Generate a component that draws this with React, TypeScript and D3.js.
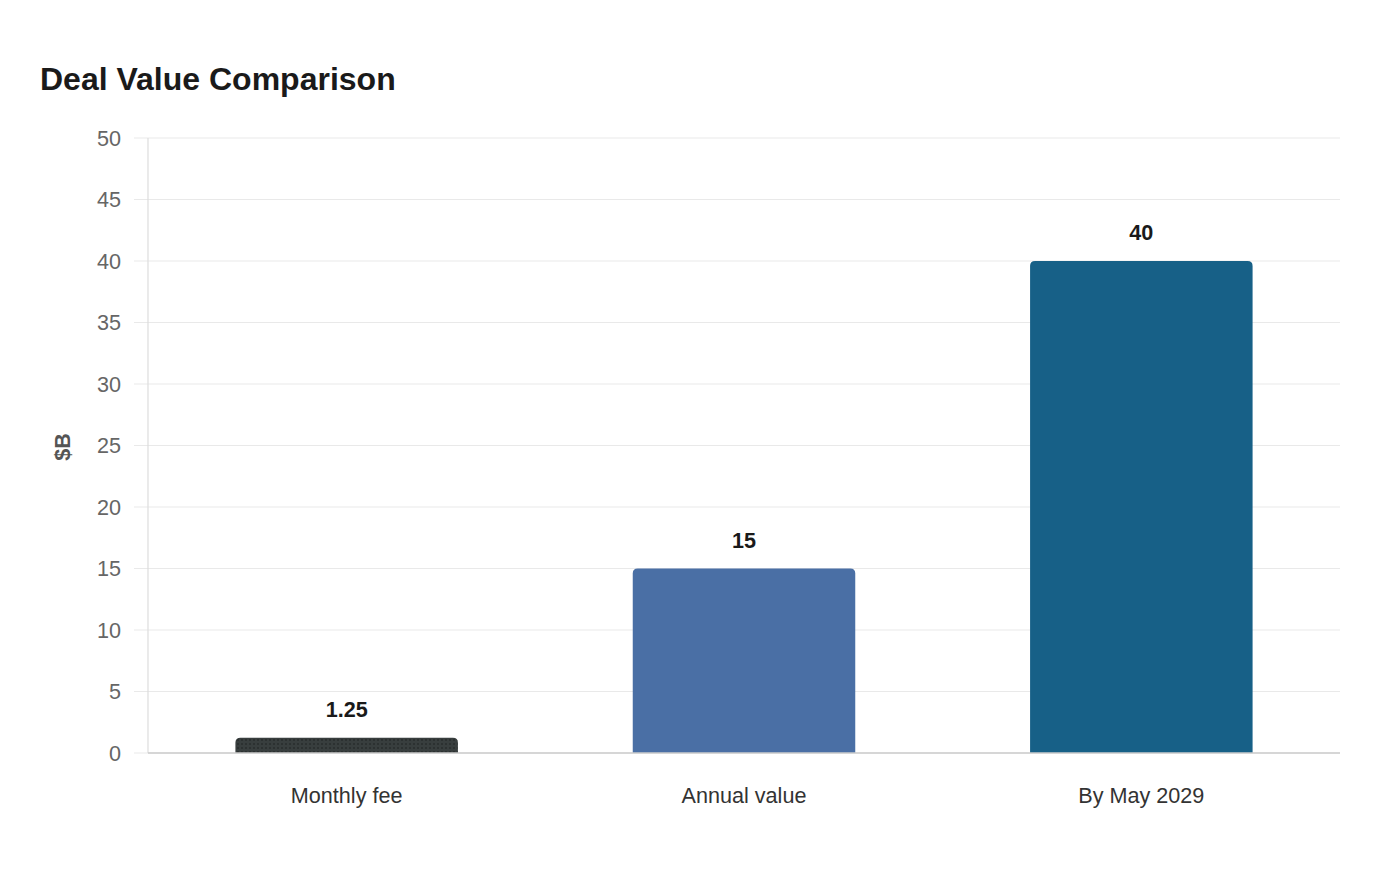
import React, { useEffect, useRef } from 'react';
import * as d3 from 'd3';

const categories = ['Monthly fee', 'Annual value', 'By May 2029'];
const values = [1.25, 15, 40];
const barColors = ['url(#dots)', '#4a6fa5', '#176087'];
const yTicks = [0, 5, 10, 15, 20, 25, 30, 35, 40, 45, 50];

const W = 1400;
const H = 880;
const FONT = '"Liberation Sans", Arial, sans-serif';

export default function App() {
  const svgRef = useRef<SVGSVGElement>(null);

  useEffect(() => {
    document.body.style.margin = '0';
    if (!svgRef.current) return;
    const svg = d3.select(svgRef.current);
    svg.selectAll('*').remove();

    const margin = { top: 138, right: 60, bottom: 127, left: 148 };
    const innerW = W - margin.left - margin.right;
    const innerH = H - margin.top - margin.bottom;

    const defs = svg.append('defs');
    const pat = defs.append('pattern')
      .attr('id', 'dots')
      .attr('patternUnits', 'userSpaceOnUse')
      .attr('width', 4)
      .attr('height', 4);
    pat.append('rect').attr('width', 4).attr('height', 4).attr('fill', '#383e3e');
    pat.append('circle').attr('cx', 2).attr('cy', 2).attr('r', 0.8).attr('fill', '#1c2020');

    svg.append('rect').attr('width', W).attr('height', H).attr('fill', '#ffffff');

    // title
    svg.append('text')
      .attr('x', 40)
      .attr('y', 90)
      .style('font-family', FONT)
      .style('font-size', '32px')
      .style('font-weight', 'bold')
      .style('fill', '#1a1a1a')
      .text('Deal Value Comparison');

    const g = svg.append('g').attr('transform', `translate(${margin.left},${margin.top})`);

    const x = d3.scaleBand<string>()
      .domain(categories)
      .range([0, innerW])
      .paddingInner(0.44)
      .paddingOuter(0.22);

    const y = d3.scaleLinear().domain([0, 50]).range([innerH, 0]);

    // grid (including the short tick stub left of the axis)
    g.selectAll('.grid')
      .data(yTicks)
      .enter()
      .append('line')
      .attr('x1', -14)
      .attr('x2', innerW)
      .attr('y1', d => y(d))
      .attr('y2', d => y(d))
      .style('stroke', '#e9e9e9')
      .style('stroke-width', 1.2);

    // y tick labels
    g.selectAll('.ytick')
      .data(yTicks)
      .enter()
      .append('text')
      .attr('x', -27)
      .attr('y', d => y(d))
      .attr('dy', '0.35em')
      .style('text-anchor', 'end')
      .style('font-family', FONT)
      .style('font-size', '21.6px')
      .style('fill', '#666666')
      .text(d => d);

    // y axis line
    g.append('line')
      .attr('x1', 0).attr('x2', 0)
      .attr('y1', 0).attr('y2', innerH)
      .style('stroke', '#dddddd')
      .style('stroke-width', 1.2);

    // bars
    const r = 5;
    g.selectAll('.bar')
      .data(values)
      .enter()
      .append('path')
      .attr('d', (d, i) => {
        const x0 = x(categories[i])!;
        const w = x.bandwidth();
        const y0 = y(d);
        const y1 = y(0);
        const rr = Math.min(r, y1 - y0);
        return `M${x0},${y1}V${y0 + rr}Q${x0},${y0} ${x0 + rr},${y0}H${x0 + w - rr}Q${x0 + w},${y0} ${x0 + w},${y0 + rr}V${y1}Z`;
      })
      .attr('fill', (d, i) => barColors[i]);

    // x axis baseline
    g.append('line')
      .attr('x1', 0).attr('x2', innerW)
      .attr('y1', innerH).attr('y2', innerH)
      .style('stroke', '#cccccc')
      .style('stroke-width', 1.5);

    // value labels
    g.selectAll('.val')
      .data(values)
      .enter()
      .append('text')
      .attr('x', (d, i) => x(categories[i])! + x.bandwidth() / 2)
      .attr('y', d => y(d) - 21)
      .style('text-anchor', 'middle')
      .style('font-family', FONT)
      .style('font-size', '21.6px')
      .style('font-weight', 'bold')
      .style('fill', '#1a1a1a')
      .text(d => d);

    // category labels
    g.selectAll('.cat')
      .data(categories)
      .enter()
      .append('text')
      .attr('x', d => x(d)! + x.bandwidth() / 2)
      .attr('y', innerH + 50)
      .style('text-anchor', 'middle')
      .style('font-family', FONT)
      .style('font-size', '21.6px')
      .style('fill', '#333333')
      .text(d => d);

    // y axis title
    svg.append('text')
      .attr('transform', `translate(70,447) rotate(-90)`)
      .style('text-anchor', 'middle')
      .style('font-family', FONT)
      .style('font-size', '21.6px')
      .style('font-weight', 'bold')
      .style('fill', '#555555')
      .text('$B');
  }, []);

  return (
    <div>
      <svg ref={svgRef} width={W} height={H} style={{ display: 'block' }}></svg>
    </div>
  );
}
